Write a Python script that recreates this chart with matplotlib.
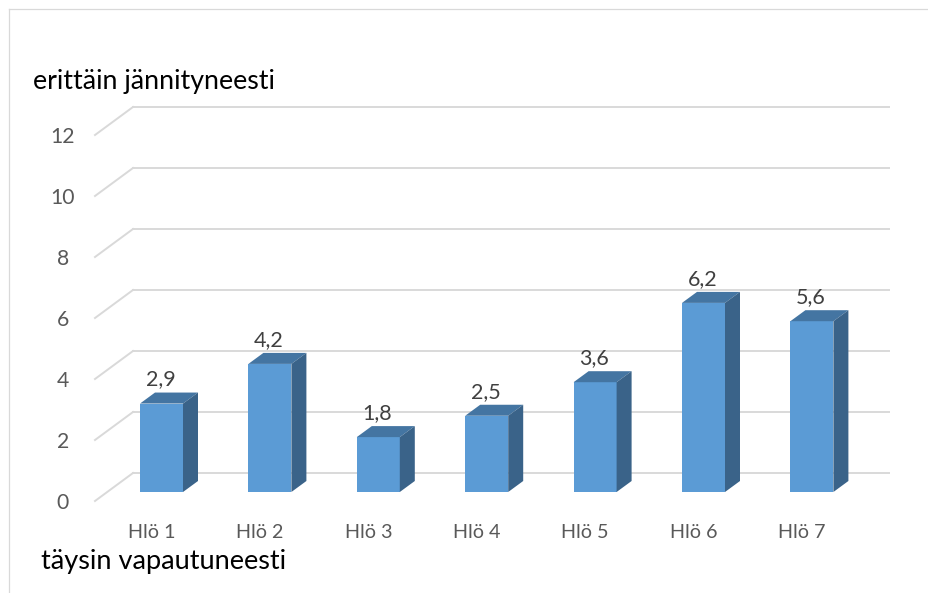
#!/usr/bin/env python3
# 3D-style column chart, drawn by hand with patches on a flat axes
import matplotlib
matplotlib.use("Agg")
import matplotlib.pyplot as plt
from matplotlib.patches import Polygon, Rectangle

names = ["Hlö 1", "Hlö 2", "Hlö 3", "Hlö 4", "Hlö 5", "Hlö 6", "Hlö 7"]
values = [2.9, 4.2, 1.8, 2.5, 3.6, 6.2, 5.6]
value_labels = ["2,9", "4,2", "1,8", "2,5", "3,6", "6,2", "5,6"]
yticks = [0, 2, 4, 6, 8, 10, 12]

plt.rcParams['font.family'] = ['Lato', 'DejaVu Sans']

W, H = 929, 593
px_x = 108.4     # pixels per category
px_y = 30.5      # pixels per value unit
x0 = 161.5       # first bar centre
y0 = 492.0       # bar base line

fig = plt.figure(figsize=(W/100, H/100), dpi=100)
ax = fig.add_axes([0, 0, 1, 1])
ax.set_xlim(-x0/px_x, (W-x0)/px_x)
ax.set_ylim(-(H-y0)/px_y, y0/px_y)
ax.axis('off')

dx = lambda p: p/px_x
dy = lambda p: p/px_y

# outer frame, only top and left are visible
ax.plot([dx(9-x0), dx(W-x0)], [dy(y0-9)]*2, color='#d9d9d9', lw=0.9)
ax.plot([dx(9-x0)]*2, [dy(y0-9), dy(y0-H)], color='#d9d9d9', lw=0.9)

# back wall gridlines and the slanted side lines
gx0, gx1 = dx(133-x0), dx(889-x0)
back = dy(19)
front = dy(y0-501)
for v in yticks:
    ax.plot([gx0, gx1], [v+back]*2, color='#d9d9d9', lw=1.4, zorder=1)
    ax.plot([dx(95-x0), gx0], [v+front, v+back], color='#d9d9d9', lw=1.4, zorder=1)
    ax.text(dx(63-x0), v+front-dy(2), str(v), ha='center', va='center',
            fontsize=15.2, color='#595959')

bw = 43/px_x
ox, oy = dx(15), dy(11)
for i, v in enumerate(values):
    l = i - bw/2
    r = i + bw/2
    ax.add_patch(Rectangle((l, 0), bw, v, fc='#5b9bd5', ec='none', zorder=3))
    ax.add_patch(Polygon([(l, v), (r, v), (r+ox, v+oy), (l+ox, v+oy)], fc='#4475a2', ec='none', zorder=3))
    ax.add_patch(Polygon([(r, 0), (r+ox, oy), (r+ox, v+oy), (r, v)], fc='#3a6389', ec='none', zorder=3))
    ax.text(i-dx(1), v+dy(24), value_labels[i], ha='center', va='center',
            fontsize=15.5, color='#404040', zorder=4)
    ax.text(i-dx(10), dy(y0-533), names[i], ha='center', va='center',
            fontsize=14.2, color='#595959')

# scale end descriptions
ax.text(dx(33-x0), dy(y0-81), "erittäin jännityneesti", ha='left', va='center',
        fontsize=19.3, color='black')
ax.text(dx(41-x0), dy(y0-562), "täysin vapautuneesti", ha='left', va='center',
        fontsize=19.5, color='black')

fig.savefig("out.png", dpi=100)
